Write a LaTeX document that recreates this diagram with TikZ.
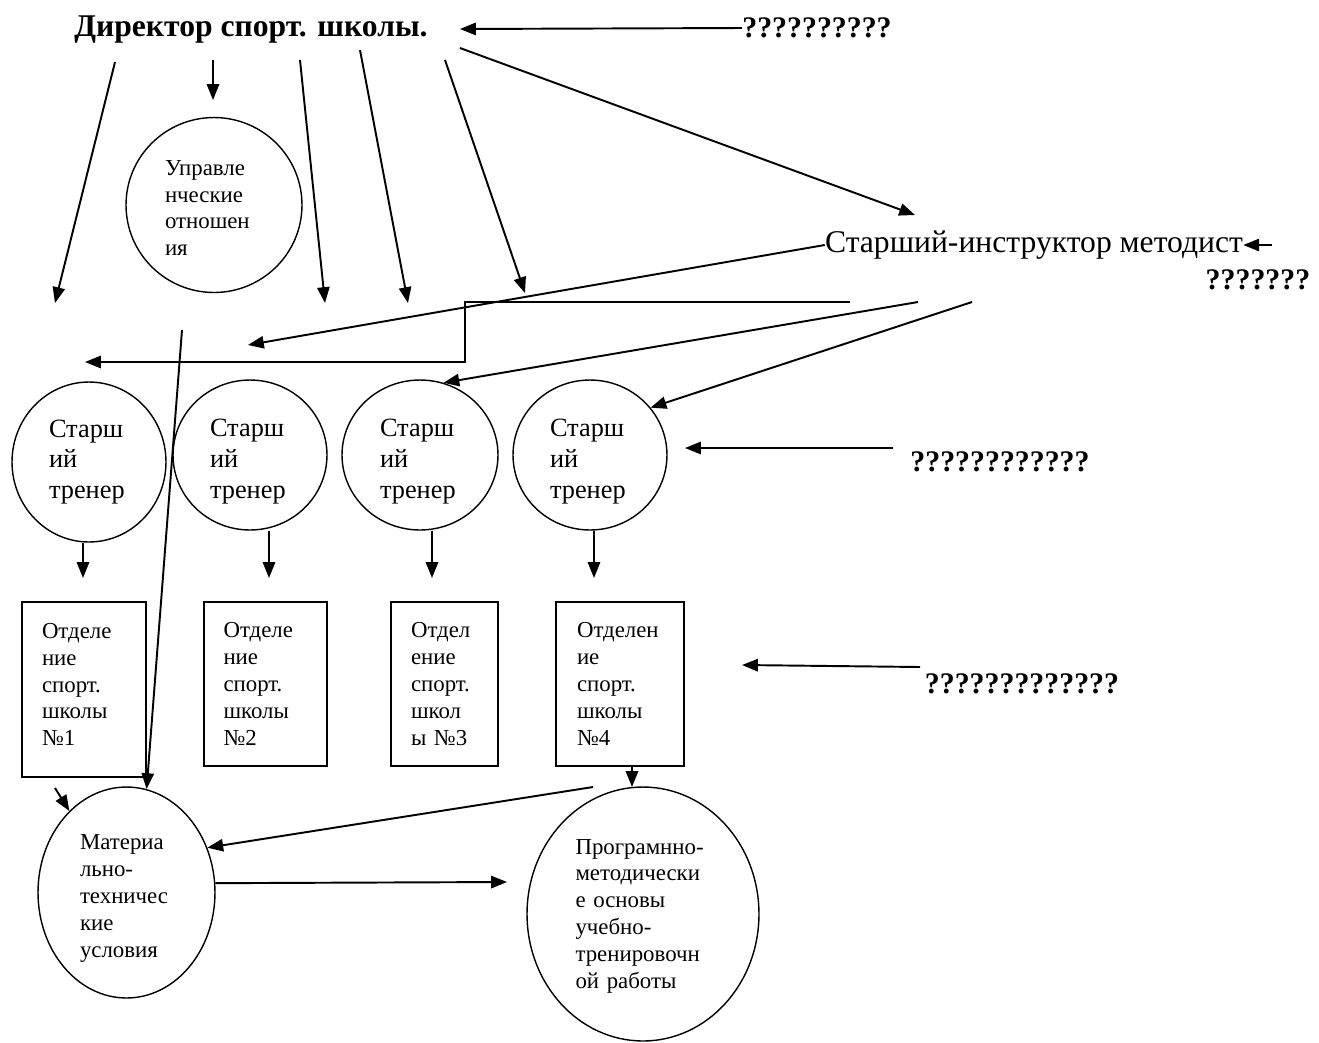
\documentclass[tikz,border=0pt]{standalone}
\usepackage{fontspec}
\setmainfont{Liberation Serif}
\usetikzlibrary{arrows.meta,shapes.geometric}

\begin{document}
\begin{tikzpicture}[x=0.02cm,y=-0.02cm,
 el/.style={draw,ellipse,line width=0.8pt,inner sep=0pt,align=left,font=\fontsize{13}{15.3}\selectfont},
 tr/.style={el,minimum width=3.08cm,minimum height=3cm,text width=1.6cm,font=\fontsize{15}{17.6}\selectfont},
 bx/.style={draw,line width=0.8pt,minimum height=3.28cm,inner sep=0pt,align=left,font=\fontsize{13}{15.3}\selectfont},
 a/.style={-{Triangle[length=9pt,width=7pt]},line width=1.1pt},
 q/.style={inner sep=0pt,font=\bfseries\fontsize{17}{20}\selectfont},
 t/.style={inner sep=0pt,font=\fontsize{18}{21}\selectfont}
]
\useasboundingbox (0,0) rectangle (1319,1042);
% top: director, methodist, question marks
\node[q,font=\bfseries\fontsize{18}{21}\selectfont] (dir) at (251,30) {Директор спорт. школы.};
\node[q] (q1) at (817,28) {??????????};
\node[t] (met) at (1034,245) {Старший-инструктор методист};
\node[q] (q2) at (1258,280) {???????};
\node[q] (q3) at (1000,462) {????????????};
\node[q] (q4) at (1022,684) {?????????????};
% ellipses and boxes
\node[el,minimum width=3.52cm,minimum height=3.5cm,text width=1.96cm] (upr) at (214,205) {\rule{0pt}{12pt}Управле\\нческие\\отношен\\ия};
\node[tr,minimum height=3.2cm] (tr1) at (89,462) {Старш\\ий\\тренер};
\node[tr] (tr2) at (250,455) {\rule{0pt}{17pt}Старш\\ий\\тренер};
\node[tr,minimum width=3.12cm] (tr3) at (420,455) {\rule{0pt}{17pt}Старш\\ий\\тренер};
\node[tr] (tr4) at (590,455) {\rule{0pt}{17pt}Старш\\ий\\тренер};
\node[bx,minimum width=2.48cm,minimum height=3.5cm,text width=1.68cm] (b1) at (84,689.5) {Отделе\\ние\\спорт.\\школы\\№1\rule[-5.7pt]{0pt}{0pt}};
\node[bx,minimum width=2.46cm,text width=1.68cm] (b2) at (265.5,684) {Отделе\\ние\\спорт.\\школы\\№2};
\node[bx,minimum width=2.14cm,text width=1.34cm] (b3) at (444.5,684) {Отдел\\ение\\спорт.\\школ\\ы №3};
\node[bx,minimum width=2.56cm,text width=1.72cm] (b4) at (620,684) {Отделен\\ие\\спорт.\\школы\\№4};
\node[el,minimum width=3.54cm,minimum height=4.22cm,text width=1.86cm] (mat) at (126.5,892.5) {\rule{0pt}{15.4pt}Материа\\льно-\\техничес\\кие\\условия};
\node[el,minimum width=4.64cm,minimum height=5.08cm,text width=2.7cm] (prog) at (643,914) {\rule{0pt}{11pt}Програмнно-\\методически\\е основы\\учебно-\\тренировочн\\ой работы};
% free ends
\coordinate (q1e) at (460,29);
\coordinate (d1) at (115,62); \coordinate (d1e) at (55,303);
\coordinate (d2) at (213,60); \coordinate (d2e) at (213,100);
\coordinate (d3) at (300,60); \coordinate (d3e) at (325,303);
\coordinate (d4) at (360,50); \coordinate (d4e) at (408,303);
\coordinate (d5) at (445,60); \coordinate (d5e) at (525,293);
\coordinate (d6) at (460,48); \coordinate (d6e) at (915,215);
\coordinate (m0) at (1272,245); \coordinate (m1e) at (248,345);
\coordinate (m2) at (850,302); \coordinate (m2e) at (85,362);
\coordinate (m3) at (918,302); \coordinate (m4) at (972,302);
\coordinate (q3s) at (893,448); \coordinate (q3e) at (685,448);
\coordinate (q4s) at (920,667); \coordinate (q4e) at (742,665);
\coordinate (u0) at (182,330); \coordinate (s0) at (55,788);
\coordinate (bm) at (593,787); \coordinate (pk) at (632,787); \coordinate (pe) at (507,882);
% director arrows
\draw[a] (q1.west)--(q1e);
\draw[a] (d1)--(d1e);\draw[a] (d2)--(d2e);\draw[a] (d3)--(d3e);\draw[a] (d4)--(d4e);\draw[a] (d5)--(d5e);\draw[a] (d6)--(d6e);
% methodist arrows
\draw[a] (m0)--(met.east);
\draw[a] (met.west)--(m1e);
\draw[a] (m2)--(465,302)--(465,362)--(m2e);
\draw[a] (m3)--(tr3.72);
\draw[a] (m4)--(tr4.38);
\draw[a] (q3s)--(q3e);
\draw[a] (q4s)--(q4e);
% trainers to sections
\foreach \i/\x in {1/83,2/269,3/432,4/594} {\coordinate (k\i) at (\x,578); \draw[a] (tr\i.south -| k\i)--(k\i);}
% bottom
\draw[a] (u0)--(mat.79);
\draw[a] (s0)--(mat.125);
\draw[a] (b4.south -| pk)--(pk);
\draw[a] (bm)--(mat.29);
\draw[a] (mat.6)--(pe);
\end{tikzpicture}
\end{document}
